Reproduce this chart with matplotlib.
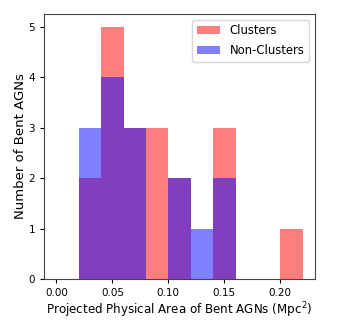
import numpy as np
import matplotlib
matplotlib.use("Agg")
import matplotlib.pyplot as plt

# histogram bins (Mpc^2) and counts
bin_edges = [0.00, 0.02, 0.04, 0.06, 0.08, 0.10, 0.12, 0.14, 0.16, 0.18, 0.20, 0.22]
clusters = [0, 2, 5, 3, 3, 2, 0, 3, 0, 0, 1]
non_clusters = [0, 3, 4, 3, 0, 2, 1, 2, 0, 0, 0]

edges = np.array(bin_edges)
centers = (edges[:-1] + edges[1:]) / 2

fig = plt.figure(figsize=(3.5, 3.23), dpi=100)
ax = fig.add_axes([0.126, 0.136, 0.774, 0.821])

ax.hist(centers, bins=edges, weights=clusters, color='red', alpha=0.5, label='Clusters')
ax.hist(centers, bins=edges, weights=non_clusters, color='blue', alpha=0.5, label='Non-Clusters')

ax.set_xlabel('Projected Physical Area of Bent AGNs (Mpc$^2$)', fontsize=8.6, labelpad=2)
ax.set_ylabel('Number of Bent AGNs', fontsize=9.5, labelpad=1)
ax.set_xticks([0.0, 0.05, 0.10, 0.15, 0.20])
ax.tick_params(labelsize=7.5, length=3)
for s in ax.spines.values():
    s.set_color('#444444')
ax.legend(loc='upper right', fontsize=8.4, labelspacing=0.6)

fig.savefig("out.png", dpi=100)
